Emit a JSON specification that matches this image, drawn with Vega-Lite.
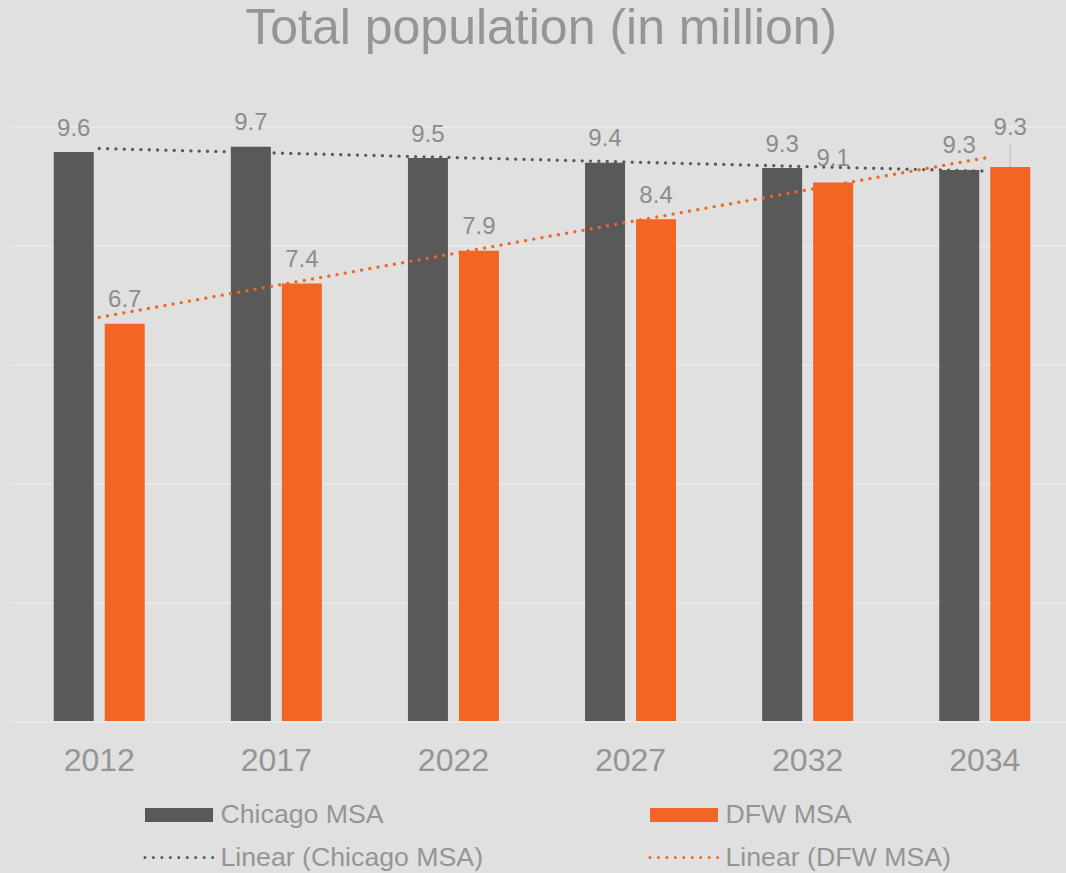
{
  "$schema": "https://vega.github.io/schema/vega-lite/v6.json",
  "width": 1055,
  "height": 594.5,
  "autosize": {"type": "none"},
  "padding": {"left": 10.7, "top": 126.5, "right": 0.3, "bottom": 152},
  "background": "#e0e0e0",
  "config": {"view": {"stroke": null}, "font": "Liberation Sans"},
  "title": {
    "text": "Total population (in million)",
    "fontSize": 50,
    "color": "#959595",
    "fontWeight": "normal",
    "font": "Liberation Sans",
    "anchor": "middle",
    "frame": "group",
    "baseline": "alphabetic",
    "offset": 17.5,
    "dx": 3
  },
  "datasets": {
    "bars": [
      {"year": "2012", "series": "Chicago MSA", "value": 9.57},
      {"year": "2012", "series": "DFW MSA", "value": 6.68},
      {"year": "2017", "series": "Chicago MSA", "value": 9.66},
      {"year": "2017", "series": "DFW MSA", "value": 7.36},
      {"year": "2022", "series": "Chicago MSA", "value": 9.47},
      {"year": "2022", "series": "DFW MSA", "value": 7.91},
      {"year": "2027", "series": "Chicago MSA", "value": 9.39},
      {"year": "2027", "series": "DFW MSA", "value": 8.44},
      {"year": "2032", "series": "Chicago MSA", "value": 9.3},
      {"year": "2032", "series": "DFW MSA", "value": 9.06},
      {"year": "2034", "series": "Chicago MSA", "value": 9.27},
      {"year": "2034", "series": "DFW MSA", "value": 9.32}
    ],
    "trend": [
      {"year": "2012", "series": "Linear (Chicago MSA)", "value": 9.63},
      {"year": "2034", "series": "Linear (Chicago MSA)", "value": 9.25},
      {"year": "2012", "series": "Linear (DFW MSA)", "value": 6.79},
      {"year": "2034", "series": "Linear (DFW MSA)", "value": 9.47}
    ]
  },
  "encoding": {
    "x": {
      "field": "year",
      "type": "nominal",
      "sort": null,
      "scale": {
        "domain": ["2012", "2017", "2022", "2027", "2032", "2034"],
        "range": [0, 1062.6],
        "paddingInner": 0,
        "paddingOuter": 0
      },
      "axis": {
        "title": null,
        "labelFontSize": 32,
        "labelColor": "#959595",
        "labelFont": "Liberation Sans",
        "ticks": false,
        "domain": false,
        "grid": false,
        "labelPadding": 49,
        "labelBaseline": "alphabetic",
        "labelAngle": 0
      }
    },
    "y": {
      "field": "value",
      "type": "quantitative",
      "scale": {"domain": [0, 10], "nice": false},
      "axis": {
        "title": null,
        "labels": false,
        "ticks": false,
        "domain": false,
        "grid": true,
        "values": [0, 2, 4, 6, 8, 10],
        "gridColor": "#ebebeb",
        "gridWidth": 1.3
      }
    },
    "color": {
      "field": "series",
      "type": "nominal",
      "scale": {
        "domain": ["Chicago MSA", "DFW MSA", "Linear (Chicago MSA)", "Linear (DFW MSA)"],
        "range": ["#595959", "#f26522", "#595959", "#f26522"]
      },
      "legend": {
        "orient": "none",
        "direction": "horizontal",
        "legendX": 134.3,
        "legendY": 673.5,
        "columns": 2,
        "columnPadding": 159,
        "rowPadding": 14,
        "padding": 0,
        "title": null,
        "symbolSize": 676,
        "symbolStrokeWidth": 3,
        "symbolOffset": 19.5,
        "labelOffset": 27,
        "labelLimit": 0,
        "labelFontSize": 26.7,
        "labelFont": "Liberation Sans",
        "labelColor": "#959595",
        "encode": {
          "symbols": {
            "update": {
              "shape": {"signal": "indexof(datum.label, 'Linear') === 0 ? 'M-2.62,0H2.62' : 'M-2.615,-0.54H2.615V0.54H-2.615Z'"},
              "fill": {"scale": "color", "field": "value"},
              "stroke": {"scale": "color", "field": "value"},
              "fillOpacity": {"signal": "indexof(datum.label, 'Linear') === 0 ? 0 : 1"},
              "strokeOpacity": {"signal": "indexof(datum.label, 'Linear') === 0 ? 1 : 0"},
              "strokeDash": {"value": [0.01, 8.45]},
              "strokeCap": {"value": "round"},
              "strokeWidth": {"value": 3},
              "opacity": {"value": 1}
            }
          }
        }
      }
    }
  },
  "layer": [
    {
      "data": {"name": "bars"},
      "mark": {"type": "bar"},
      "encoding": {
        "xOffset": {
          "field": "series",
          "type": "nominal",
          "scale": {"domain": ["Chicago MSA", "DFW MSA"], "paddingInner": 0.216, "paddingOuter": 0.844}
        }
      }
    },
    {
      "data": {"name": "trend"},
      "mark": {"type": "line", "strokeWidth": 3.3, "strokeDash": [0.01, 8.32], "strokeCap": "round"}
    },
    {
      "data": {"name": "bars"},
      "transform": [{"filter": "!(datum.year == '2034' && datum.series == 'DFW MSA')"}],
      "mark": {"type": "text", "baseline": "alphabetic", "dy": -16.5, "fontSize": 24, "font": "Liberation Sans"},
      "encoding": {
        "xOffset": {
          "field": "series",
          "type": "nominal",
          "scale": {"domain": ["Chicago MSA", "DFW MSA"], "paddingInner": 0.216, "paddingOuter": 0.844}
        },
        "text": {"field": "value", "type": "quantitative", "format": ".1f"},
        "color": {"value": "#8c8c8c"}
      }
    },
    {
      "data": {"name": "bars"},
      "transform": [{"filter": "datum.year == '2034' && datum.series == 'DFW MSA'"}],
      "mark": {"type": "rule", "y2Offset": -22.6, "strokeWidth": 1.3},
      "encoding": {
        "xOffset": {
          "field": "series",
          "type": "nominal",
          "scale": {"domain": ["Chicago MSA", "DFW MSA"], "paddingInner": 0.216, "paddingOuter": 0.844}
        },
        "y2": {"field": "value"},
        "color": {"value": "#c4c4c4"}
      }
    },
    {
      "data": {"name": "bars"},
      "transform": [{"filter": "datum.year == '2034' && datum.series == 'DFW MSA'"}],
      "mark": {"type": "text", "baseline": "alphabetic", "dy": -31.7, "fontSize": 24, "font": "Liberation Sans"},
      "encoding": {
        "xOffset": {
          "field": "series",
          "type": "nominal",
          "scale": {"domain": ["Chicago MSA", "DFW MSA"], "paddingInner": 0.216, "paddingOuter": 0.844}
        },
        "text": {"field": "value", "type": "quantitative", "format": ".1f"},
        "color": {"value": "#8c8c8c"}
      }
    }
  ]
}
